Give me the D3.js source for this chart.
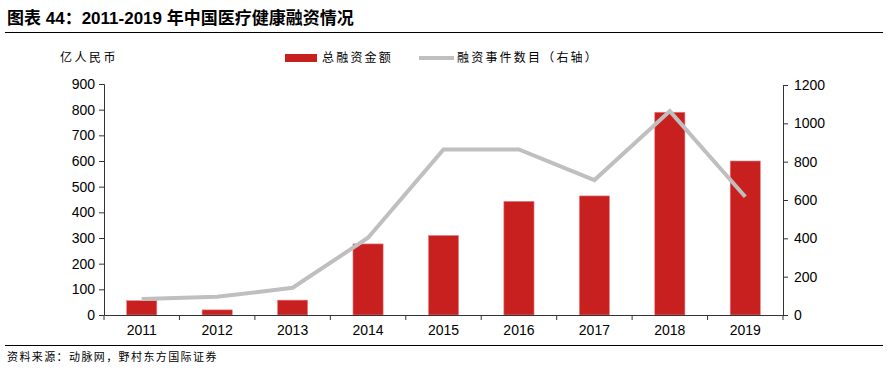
<!DOCTYPE html>
<html>
<head>
<meta charset="utf-8">
<script src="https://cdn.jsdelivr.net/npm/d3@7"></script>
<style>
  body { margin: 0; background: #fff; }
  svg text { font-family: "Liberation Sans", Arial, "Noto Sans CJK SC", sans-serif; }
  .cjk { font-family: "Liberation Sans", "Noto Sans CJK SC", sans-serif; }
</style>
</head>
<body>
<svg id="chart" width="888" height="371"></svg>
<script>
const years = ["2011", "2012", "2013", "2014", "2015", "2016", "2017", "2018", "2019"];
const amounts = [56, 20, 58, 277, 310, 443, 464, 790, 600];
const events = [83, 95, 142, 403, 864, 864, 704, 1064, 617];
const leftTicks = [0, 100, 200, 300, 400, 500, 600, 700, 800, 900];
const rightTicks = [0, 200, 400, 600, 800, 1000, 1200];

const RED = "#c8201f";
const GREY = "#bfbfbf";

const svg = d3.select("#chart");

const x = d3.scaleBand().domain(years).range([104, 783]).paddingInner(0.6).paddingOuter(0.3);
const xb = d3.scaleBand().domain(years).range([104, 783]);
const yL = d3.scaleLinear().domain([0, 900]).range([315, 84]);
const yR = d3.scaleLinear().domain([0, 1200]).range([315, 85]);

// title
svg.append("text")
  .attr("class", "cjk")
  .attr("x", 7).attr("y", 24)
  .attr("font-size", 17).attr("font-weight", "bold")
  .text("图表 44：2011-2019 年中国医疗健康融资情况");
svg.append("line").attr("x1", 5).attr("x2", 883).attr("y1", 32.5).attr("y2", 32.5)
  .attr("stroke", "#000").attr("stroke-width", 1);

// bars
svg.append("g").selectAll("rect")
  .data(years)
  .enter()
  .append("rect")
  .attr("x", d => x(d))
  .attr("width", x.bandwidth())
  .attr("y", (d, i) => yL(amounts[i]))
  .attr("height", (d, i) => yL(0) - yL(amounts[i]))
  .attr("fill", RED)
  .attr("stroke", "#e8888a")
  .attr("stroke-width", 0.6);

// line
const line = d3.line()
  .x(d => xb(d.year) + xb.bandwidth() / 2)
  .y(d => yR(d.value));
svg.append("path")
  .attr("d", line(years.map((y, i) => ({ year: y, value: events[i] }))))
  .attr("fill", "none")
  .attr("stroke", GREY)
  .attr("stroke-width", 4);

// axes
const axL = svg.append("g").attr("transform", "translate(104,0)")
  .call(d3.axisLeft(yL).tickValues(leftTicks).tickSize(5).tickPadding(4));
const axR = svg.append("g").attr("transform", "translate(783,0)")
  .call(d3.axisRight(yR).tickValues(rightTicks).tickFormat(d3.format("d")).tickSize(5).tickPadding(6));
const axB = svg.append("g").attr("transform", "translate(0,315)")
  .call(d3.axisBottom(xb).tickSize(0).tickPadding(10));

[axL, axR, axB].forEach(a => {
  a.selectAll("text").attr("font-size", 14).attr("fill", "#000")
    .attr("font-family", "'Liberation Sans', Arial, sans-serif");
  a.selectAll("line").attr("stroke", "#333");
  a.select(".domain").attr("stroke", "#333");
});

// category separator ticks
axB.append("g").selectAll("line")
  .data(years.concat(["end"]))
  .enter()
  .append("line")
  .attr("x1", (d, i) => 104 + i * xb.bandwidth())
  .attr("x2", (d, i) => 104 + i * xb.bandwidth())
  .attr("y1", 0).attr("y2", 5)
  .attr("stroke", "#333");

// unit
svg.append("text").attr("class", "cjk")
  .attr("x", 60).attr("y", 62).attr("font-size", 12).attr("letter-spacing", 2.5)
  .text("亿人民币");

// legend
svg.append("rect").attr("x", 285).attr("y", 54).attr("width", 32).attr("height", 8).attr("fill", RED);
svg.append("text").attr("class", "cjk").attr("x", 322).attr("y", 62).attr("font-size", 12)
  .attr("letter-spacing", 2.2)
  .text("总融资金额");
svg.append("line").attr("x1", 419).attr("x2", 454).attr("y1", 58).attr("y2", 58)
  .attr("stroke", GREY).attr("stroke-width", 4);
svg.append("text").attr("class", "cjk").attr("x", 457).attr("y", 62).attr("font-size", 12)
  .attr("letter-spacing", 2.2)
  .text("融资事件数目（右轴）");

// footer
svg.append("line").attr("x1", 5).attr("x2", 883).attr("y1", 345.5).attr("y2", 345.5)
  .attr("stroke", "#000").attr("stroke-width", 1);
svg.append("text").attr("class", "cjk")
  .attr("x", 7).attr("y", 361).attr("font-size", 11).attr("letter-spacing", 1.4)
  .text("资料来源：动脉网，野村东方国际证券");
</script>
</body>
</html>
